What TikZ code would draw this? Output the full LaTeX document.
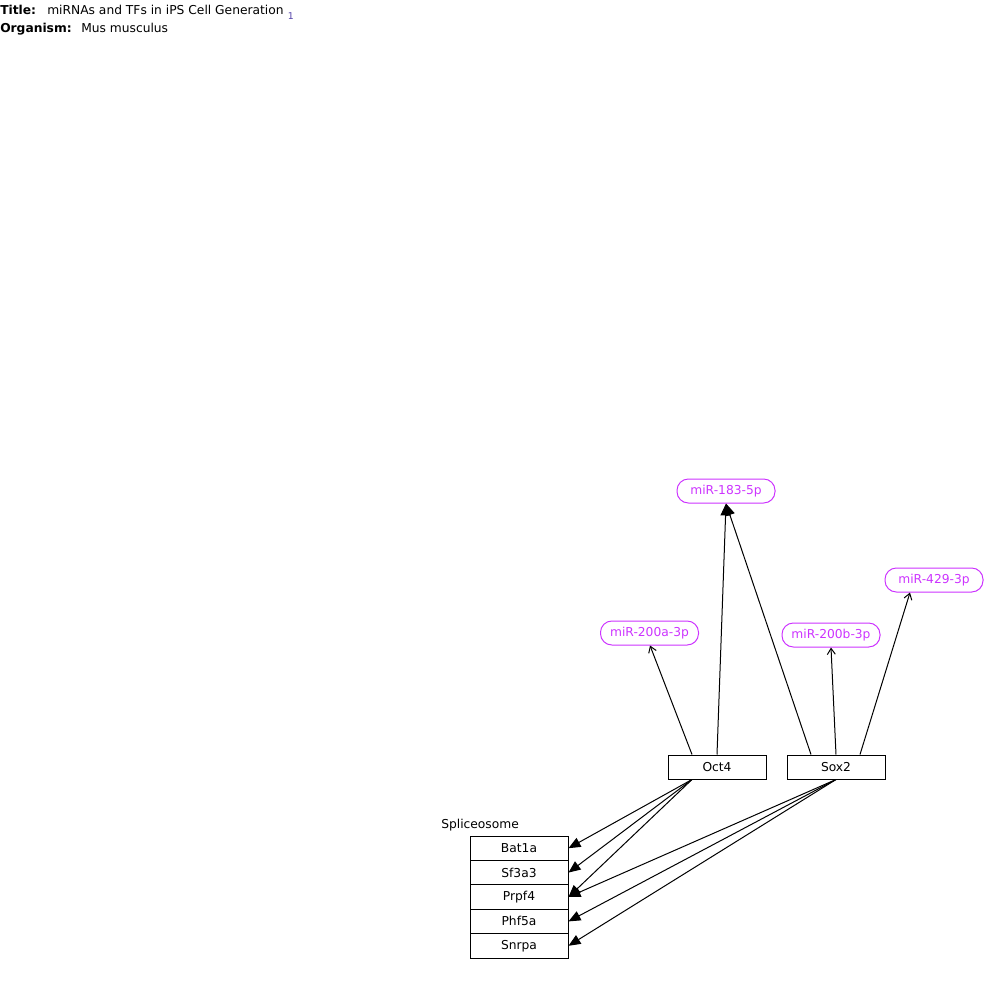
\documentclass[tikz,border=0pt]{standalone}
\usepackage{fontspec}
\setmainfont{DejaVu Sans}
\usetikzlibrary{arrows.meta,calc}
\definecolor{mirna}{HTML}{CC33FF}
\definecolor{refcol}{HTML}{5544AA}
\tikzset{
  box/.style={draw=black,line width=0.75pt,minimum width=73.5pt,minimum height=18pt,inner sep=0pt,font=\fontsize{9.2pt}{10pt}\selectfont},
  mir/.style={draw=mirna,text=mirna,line width=0.75pt,rounded corners=8.5pt,minimum width=73.5pt,minimum height=18pt,inner sep=0pt,font=\fontsize{9.2pt}{10pt}\selectfont},
  lbl/.style={inner sep=0pt,font=\fontsize{9.2pt}{10pt}\selectfont},
  conv/.style={line width=0.75pt,-{Triangle[length=9pt,width=7.5pt]}},
  open/.style={line width=0.75pt,-{Straight Barb[length=4.5pt,width=6pt]}},
}
\begin{document}
\begin{tikzpicture}[x=0.75pt,y=-0.75pt]
\useasboundingbox (0,0) rectangle (1000,985);
% header
\node[lbl,anchor=base west] (t1) at (0,15) {\textbf{Title:}};
\node[lbl,anchor=base west] (t2) at (47,15) {miRNAs and TFs in iPS Cell Generation};
\node[lbl,anchor=base west,text=refcol,font=\fontsize{7pt}{8pt}\selectfont] (t3) at (287.5,19) {1};
\node[lbl,anchor=base west] (o1) at (0,32) {\textbf{Organism:}};
\node[lbl,anchor=base west] (o2) at (81,32) {Mus musculus};
% miRNAs
\node[mir] (m183) at (726,491) {miR-183-5p};
\node[mir] (m200a) at (649.5,633) {miR-200a-3p};
\node[mir] (m200b) at (831,635) {miR-200b-3p};
\node[mir] (m429) at (934,580) {miR-429-3p};
% TFs
\node[box] (oct4) at (717,767) {Oct4};
\node[box] (sox2) at (836,767) {Sox2};
% spliceosome
\node[lbl,anchor=base west] (spl) at (441,828.5) {Spliceosome};
\node[box,minimum height=18.3pt] (bat) at (519,848.2) {Bat1a};
\node[box,minimum height=18.3pt] (sf) at (519,872.6) {Sf3a3};
\node[box,minimum height=18.3pt] (prp) at (519,897) {Prpf4};
\node[box,minimum height=18.3pt] (phf) at (519,921.4) {Phf5a};
\node[box,minimum height=18.3pt] (snr) at (519,945.8) {Snrpa};
% anchor coordinates
\coordinate (oA) at ($(oct4.north)+(-25,0)$);
\coordinate (sA) at ($(sox2.north)+(-25,0)$);
\coordinate (sC) at ($(sox2.north)+(24,0)$);
\coordinate (oB) at ($(oct4.south)+(-25,0)$);
\coordinate (m200aB) at ($(m200a.south)+(0.5,0)$);
\coordinate (m429B) at ($(m429.south)+(-24,0)$);
% edges up
\draw[open] (oA) -- (m200aB);
\draw[conv] (oct4.north) -- (m183.south);
\draw[conv] (sA) -- (m183.south);
\draw[open] (sox2.north) -- (m200b.south);
\draw[open] (sC) -- (m429B);
% edges down
\draw[conv] (oB) -- (bat.east);
\draw[conv] (oB) -- (sf.east);
\draw[conv] (oB) -- (prp.east);
\draw[conv] (sox2.south) -- (prp.east);
\draw[conv] (sox2.south) -- (phf.east);
\draw[conv] (sox2.south) -- (snr.east);
\end{tikzpicture}
\end{document}
